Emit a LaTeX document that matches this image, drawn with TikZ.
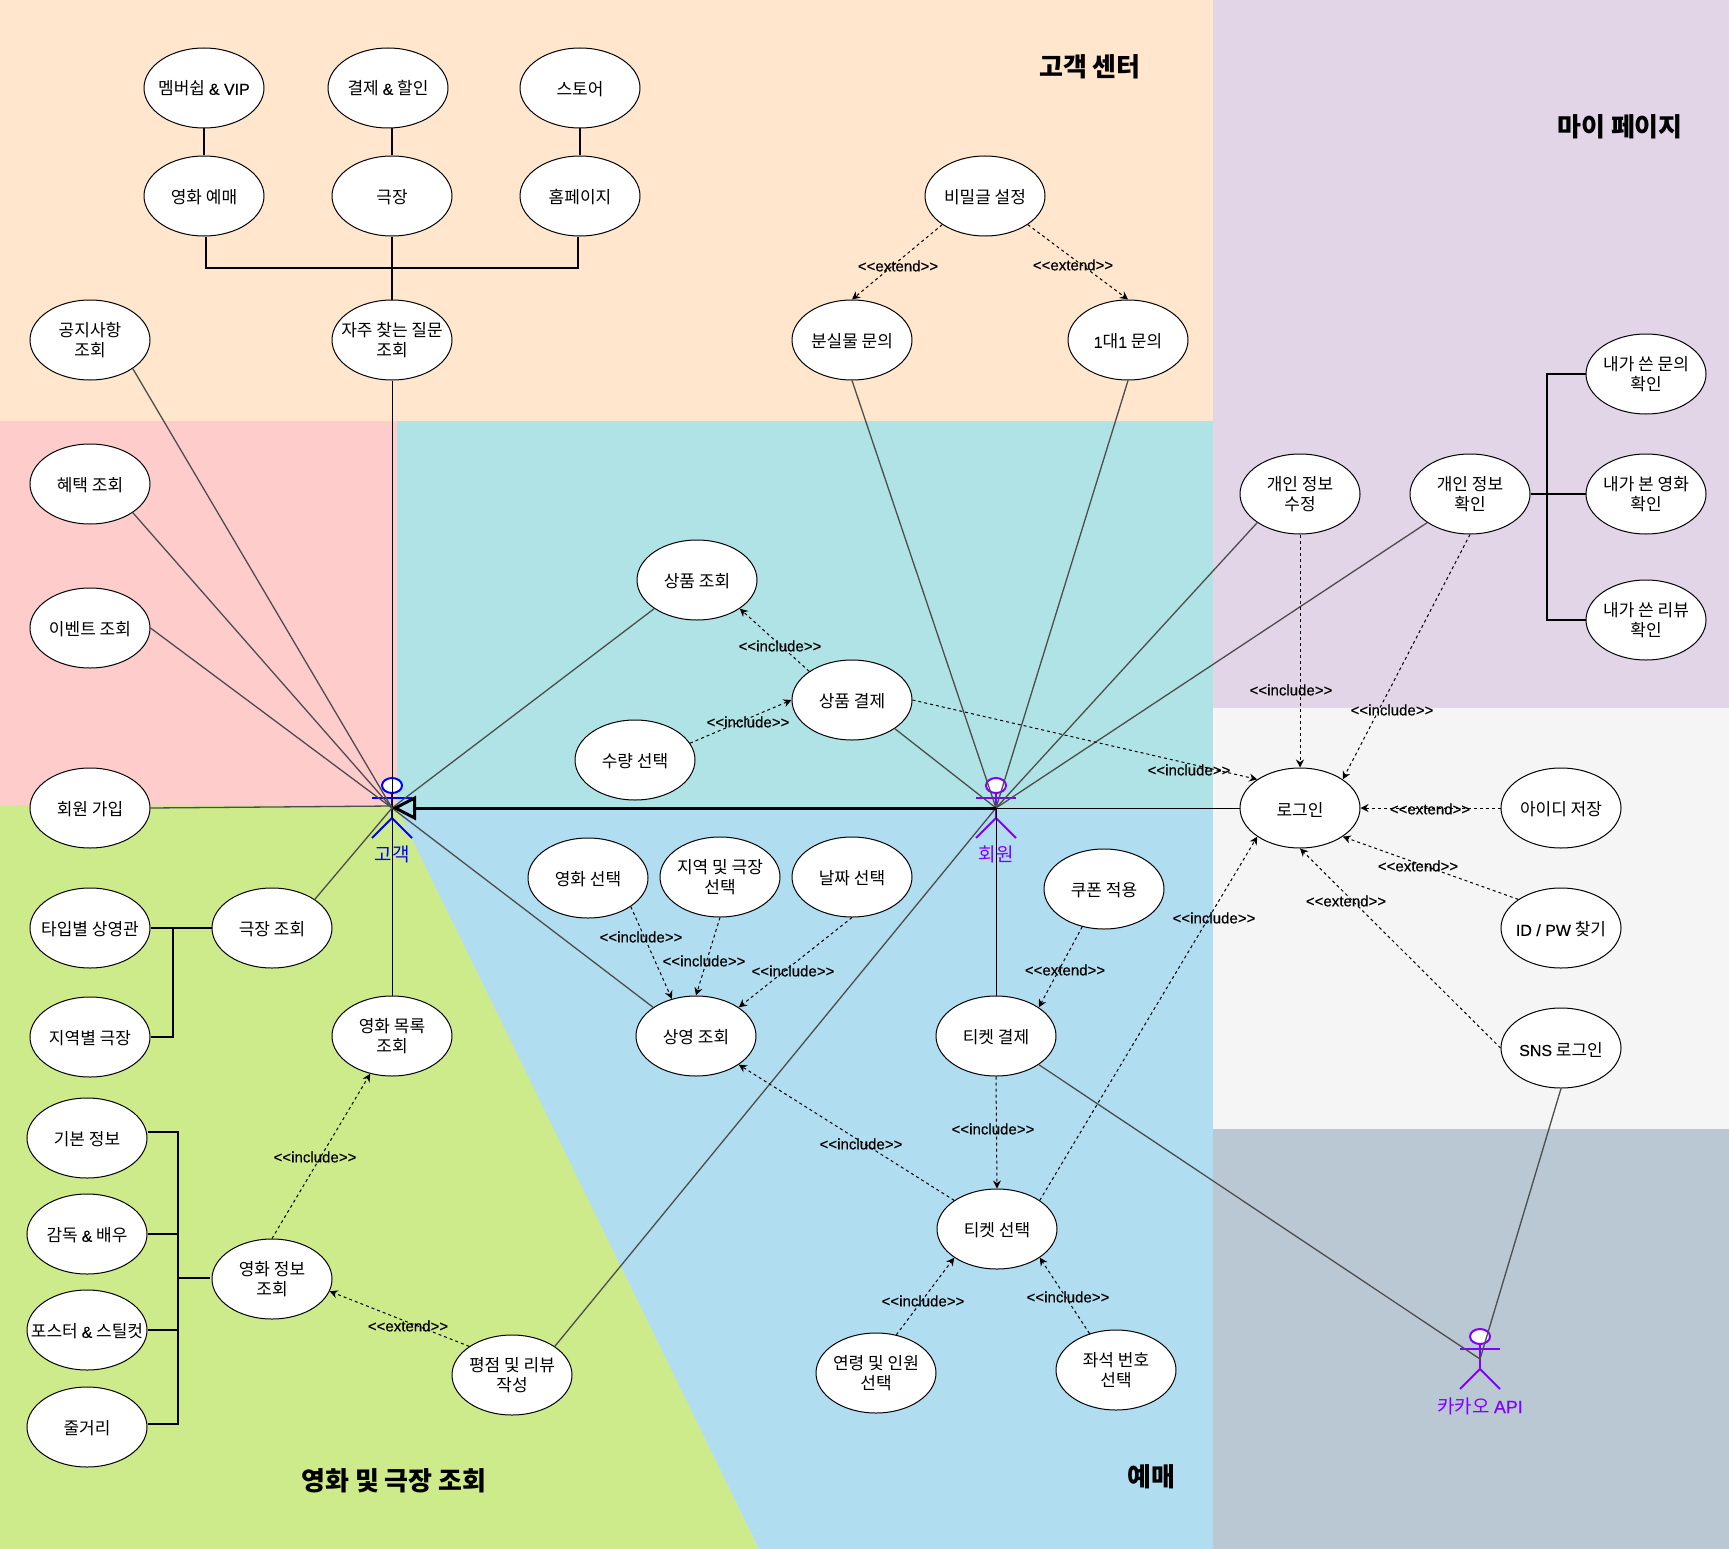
\documentclass[tikz,border=0pt]{standalone}
\usepackage{fontspec}
\setmainfont{Noto Sans CJK KR}
\newfontfamily\latfont[Scale=0.94,FakeBold=0.3]{Liberation Sans}
\usetikzlibrary{arrows.meta}
\usetikzlibrary{shapes.geometric}
\definecolor{peachbg}{HTML}{FFE6CC}
\definecolor{pinkbg}{HTML}{FFCCCC}
\definecolor{tealbg}{HTML}{B0E3E6}
\definecolor{bluebg}{HTML}{B1DDF0}
\definecolor{greenbg}{HTML}{CDEB8B}
\definecolor{purplebg}{HTML}{E1D5E7}
\definecolor{greybg}{HTML}{F5F5F5}
\definecolor{slatebg}{HTML}{BAC8D3}
\definecolor{custblue}{HTML}{0000FF}
\definecolor{memberviolet}{HTML}{7F00FF}
\definecolor{assocline}{HTML}{4D4D4D}
\newcommand\lat[1]{{\latfont #1}}
\newcommand\inc{{<}{<}include{>}{>}}
\newcommand\ext{{<}{<}extend{>}{>}}
\tikzset{
  usecase/.style={ellipse,draw=black,line width=1pt,fill=white,minimum width=120pt,minimum height=80pt,inner xsep=-30pt,inner ysep=0pt,align=center,font=\fontsize{17}{20}\selectfont,execute at begin node={\rule{0pt}{#1}}},
  usecase/.default=17pt,
  assoc/.style={assocline,line width=1.3pt},
  plain/.style={black,line width=1pt},
  tree/.style={black,line width=2pt},
  dep/.style={black,dashed,line width=1pt,dash pattern=on 3pt off 3pt,-{Stealth[length=8pt,width=8pt]}},
  deplabel/.style={font=\latfont\fontsize{16}{18}\selectfont,inner sep=0pt},
  region/.style={font=\bfseries\fontsize{26}{30}\selectfont,inner sep=0pt},
  actorlabel/.style={font=\fontsize{19}{22}\selectfont,inner sep=0pt},
  stick/.pic={
    \draw[line width=2pt,fill=white] (0,-22.5) ellipse [x radius=10pt,y radius=7.5pt];
    \draw[line width=2pt] (-20,-10) -- (20,-10);
    \draw[line width=2pt] (0,-15) -- (0,10);
    \draw[line width=2pt] (-20,30) -- (0,10) -- (20,30);
  }
}
\begin{document}
\begin{tikzpicture}[x=1pt,y=-1pt]
\useasboundingbox (0,0) rectangle (1729,1549);
% backgrounds
\fill[peachbg] (0,0) rectangle (1213,421);
\fill[pinkbg] (0,421) rectangle (397,805);
\fill[tealbg] (397,421) rectangle (1213,808);
\fill[greenbg] (0,805) -- (397,805) -- (759,1549) -- (0,1549) -- cycle;
\fill[bluebg] (397,808) -- (1213,808) -- (1213,1549) -- (759,1549) -- cycle;
\fill[purplebg] (1213,0) rectangle (1729,708);
\fill[greybg] (1213,708) rectangle (1729,1129);
\fill[slatebg] (1213,1129) rectangle (1729,1549);
\node[region] (titlecenter) at (1090,67) {고객 센터};
\node[region] (titlemypage) at (1620,127) {마이 페이지};
\node[region] (titlemovie) at (394,1481) {영화 및 극장 조회};
\node[region] (titlebook) at (1151,1477) {예매};

% actors
\coordinate (customer) at (392,808);
\coordinate (member) at (996,808);
\coordinate (kakao) at (1480,1359);
\pic[color=custblue] at (customer) {stick};
\pic[color=memberviolet] at (member) {stick};
\pic[color=memberviolet] at (kakao) {stick};
\node[actorlabel,text=custblue] (customerlabel) at (392,854) {고객};
\node[actorlabel,text=memberviolet] (memberlabel) at (996,854) {회원};
\node[actorlabel,text=memberviolet] (kakaolabel) at (1480,1406) {카카오 \lat{API}};

% customer center
\node[usecase=15pt] (vip) at (204,88) {멤버쉽 \lat{\& VIP}};
\node[usecase=15pt] (pay) at (388,88) {결제 \lat{\&} 할인};
\node[usecase] (store) at (580,88) {스토어};
\node[usecase] (faqbook) at (204,196) {영화 예매};
\node[usecase] (faqtheater) at (392,196) {극장};
\node[usecase] (faqhome) at (580,196) {홈페이지};
\node[usecase=20pt] (notice) at (90,340) {공지사항\\조회};
\node[usecase=20pt] (faq) at (392,340) {자주 찾는 질문\\조회};
\node[usecase] (secret) at (985,196) {비밀글 설정};
\node[usecase] (lost) at (852,340) {분실물 문의};
\node[usecase] (oneone) at (1128,340) {\lat{1}대\lat{1} 문의};
% left column
\node[usecase] (benefit) at (90,484) {혜택 조회};
\node[usecase] (event) at (90,628) {이벤트 조회};
\node[usecase] (join) at (90,808) {회원 가입};
\node[usecase] (bytype) at (90,928) {타입별 상영관};
\node[usecase] (theater) at (272,928) {극장 조회};
\node[usecase] (byarea) at (90,1037) {지역별 극장};
\node[usecase=20pt] (movielist) at (392,1036) {영화 목록\\조회};
\node[usecase] (basic) at (87,1138) {기본 정보};
\node[usecase] (cast) at (87,1234) {감독 \lat{\&} 배우};
\node[usecase] (poster) at (87,1330) {포스터 \lat{\&} 스틸컷};
\node[usecase] (plot) at (87,1427) {줄거리};
\node[usecase=20pt] (info) at (272,1279) {영화 정보\\조회};
\node[usecase=20pt] (review) at (512,1375) {평점 및 리뷰\\작성};
% shop
\node[usecase] (goods) at (697,580) {상품 조회};
\node[usecase] (goodspay) at (852,700) {상품 결제};
\node[usecase] (amount) at (635,760) {수량 선택};
% booking
\node[usecase] (pickmovie) at (588,878) {영화 선택};
\node[usecase=20pt] (pickarea) at (720,877) {지역 및 극장\\선택};
\node[usecase] (pickdate) at (852,877) {날짜 선택};
\node[usecase] (showtime) at (696,1036) {상영 조회};
\node[usecase] (ticketpay) at (996,1036) {티켓 결제};
\node[usecase] (coupon) at (1104,889) {쿠폰 적용};
\node[usecase] (ticket) at (997,1229) {티켓 선택};
\node[usecase=20pt] (age) at (876,1373) {연령 및 인원\\선택};
\node[usecase=20pt] (seat) at (1116,1370) {좌석 번호\\선택};
% my page and login
\node[usecase=20pt] (editinfo) at (1300,494) {개인 정보\\수정};
\node[usecase=20pt] (myinfo) at (1470,494) {개인 정보\\확인};
\node[usecase=20pt] (myask) at (1646,374) {내가 쓴 문의\\확인};
\node[usecase=20pt] (mymovie) at (1646,494) {내가 본 영화\\확인};
\node[usecase=20pt] (myreview) at (1646,620) {내가 쓴 리뷰\\확인};
\node[usecase] (login) at (1300,808) {로그인};
\node[usecase] (saveid) at (1561,808) {아이디 저장};
\node[usecase] (findid) at (1561,928) {\lat{ID / PW} 찾기};
\node[usecase] (sns) at (1561,1048) {\lat{SNS} 로그인};

% trees
\draw[tree] (vip) -- (faqbook);
\draw[tree] (faqtheater.north) -- (faqtheater.north |- pay.south);
\draw[tree] (store) -- (faqhome);
\draw[tree] (faqtheater) -- (faq);
\coordinate (faqjoin) at (392,268);
\draw[tree] ([xshift=2pt]faqbook.south) |- (faqjoin) -| ([xshift=-2pt]faqhome.south);
\draw[tree] (bytype) -- (theater);
\coordinate (theaterjoin) at (173,928);
\draw[tree] (byarea) -| (theaterjoin);
\coordinate (infojoin) at (178,1278);
\draw[tree] ([xshift=-2pt]info.west |- infojoin) -- (infojoin);
\draw[tree] ([yshift=6pt]basic.east) -| (infojoin);
\draw[tree] (cast) -| (infojoin);
\draw[tree] (poster) -| (infojoin);
\draw[tree] ([yshift=3pt]plot.east) -| (infojoin);
\coordinate (myjoin) at (1547,494);
\draw[tree] (myinfo) -- (mymovie);
\draw[tree] (myask) -| (myjoin);
\draw[tree] (myreview) -| (myjoin);

% associations
\draw[plain] (faq) -- (customer);
\draw[plain] (movielist) -- (customer);
\draw[assoc] (notice.south east) -- (customer);
\draw[assoc] (benefit.south east) -- (customer);
\draw[assoc] (event.east) -- (customer);
\draw[assoc] (join.east) -- ([yshift=2pt]customer);
\draw[assoc] (goods.south west) -- (customer);
\draw[assoc] (theater.north east) -- (customer);
\draw[assoc] (showtime.north west) -- (customer);
\draw[assoc] (review.north east) -- (member);
\draw[assoc] (goodspay.south east) -- (member);
\draw[assoc] (lost.south) -- (member);
\draw[assoc] (oneone.south) -- (member);
\draw[assoc] (editinfo.south west) -- (member);
\draw[assoc] (myinfo.south west) -- (member);
\draw[plain] (login.west) -- (member);
\draw[plain] (ticketpay.north) -- (member);
\draw[assoc] (ticketpay.south east) -- (kakao);
\draw[assoc] (sns.south) -- (kakao);
\draw[line width=3pt,-{Triangle[open,length=24pt,width=24pt,line width=3pt]}] (member) -- (customer);

% include and extend
\draw[dep] (secret.south west) -- (lost.north);
\draw[dep] (secret.south east) -- (oneone.north);
\draw[dep] (goodspay.north west) -- (goods.south east);
\draw[dep] (amount.17) -- (goodspay.west);
\draw[dep] (goodspay.east) -- (login.north west);
\draw[dep] (editinfo.south) -- (login.north);
\draw[dep] (myinfo.south) -- (login.north east);
\draw[dep] (saveid.west) -- (login.east);
\draw[dep] (findid.north west) -- (login.south east);
\draw[dep] (sns.west) -- (login.south);
\draw[dep] (ticket.north east) -- (login.south west);
\draw[dep] (coupon.-120) -- (ticketpay.north east);
\draw[dep] (ticketpay.south) -- (ticket.north);
\draw[dep] (ticket.north west) -- (showtime.south east);
\draw[dep] (age.62) -- (ticket.south west);
\draw[dep] (seat.126) -- (ticket.south east);
\draw[dep] (pickmovie.south east) -- (showtime.123);
\draw[dep] (pickarea.south) -- (showtime.north);
\draw[dep] (pickdate.south) -- (showtime.north east);
\draw[dep] (info.north) -- (movielist.-120);
\draw[dep] (review.north west) -- (info.-12);

\node[deplabel] (l1) at (898,266) {\ext};
\node[deplabel] (l2) at (1073,265) {\ext};
\node[deplabel] (l3) at (780,646) {\inc};
\node[deplabel] (l4) at (748,722) {\inc};
\node[deplabel] (l5) at (1189,770) {\inc};
\node[deplabel] (l6) at (1291,690) {\inc};
\node[deplabel] (l7) at (1392,710) {\inc};
\node[deplabel] (l8) at (1430,809) {\ext};
\node[deplabel] (l9) at (1418,866) {\ext};
\node[deplabel] (l10) at (1346,901) {\ext};
\node[deplabel] (l11) at (1214,918) {\inc};
\node[deplabel] (l12) at (1065,970) {\ext};
\node[deplabel] (l13) at (993,1129) {\inc};
\node[deplabel] (l14) at (861,1144) {\inc};
\node[deplabel] (l15) at (923,1301) {\inc};
\node[deplabel] (l16) at (1068,1297) {\inc};
\node[deplabel] (l17) at (641,937) {\inc};
\node[deplabel] (l18) at (704,961) {\inc};
\node[deplabel] (l19) at (793,971) {\inc};
\node[deplabel] (l20) at (315,1157) {\inc};
\node[deplabel] (l21) at (408,1326) {\ext};
\end{tikzpicture}
\end{document}
